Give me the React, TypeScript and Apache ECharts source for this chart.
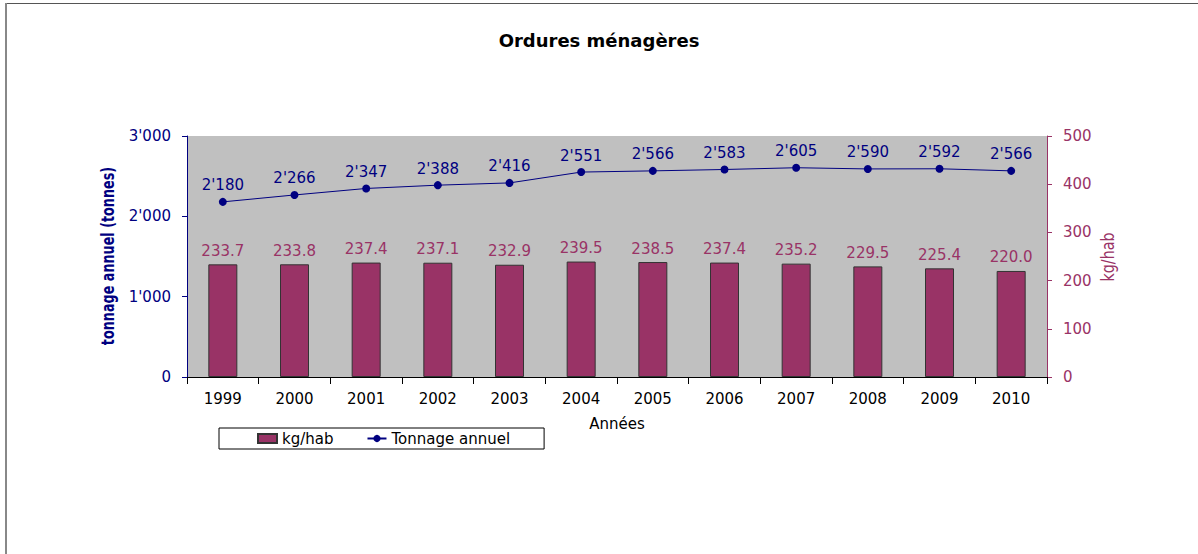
import React, { useEffect, useRef } from "react";
import * as echarts from "echarts";

const years = ["1999", "2000", "2001", "2002", "2003", "2004", "2005", "2006", "2007", "2008", "2009", "2010"];
const tonnage = [2180, 2266, 2347, 2388, 2416, 2551, 2566, 2583, 2605, 2590, 2592, 2566];
const kgHab = [233.7, 233.8, 237.4, 237.1, 232.9, 239.5, 238.5, 237.4, 235.2, 229.5, 225.4, 220.0];

const NAVY = "#000080";
const PURPLE = "#993366";
const FONT = "DejaVu Sans";

const fmtThousands = (v: number) => {
  const s = String(Math.round(v));
  return s.replace(/\B(?=(\d{3})+(?!\d))/g, "'");
};

export default function App() {
  const ref = useRef<HTMLDivElement>(null);
  useEffect(() => {
    document.body.style.margin = "0";
    const chart = echarts.init(ref.current!, null, { renderer: "svg" });
    chart.setOption({
      animation: false,
      backgroundColor: "#ffffff",
      title: {
        text: "Ordures ménagères",
        left: "center",
        top: 31,
        padding: 0,
        textStyle: { fontFamily: FONT, fontWeight: "bold", fontSize: 18, color: "#000" },
      },
      legend: {
        left: 219,
        top: 428,
        orient: "horizontal",
        padding: [3, 34, 3, 38],
        itemGap: 33,
        itemWidth: 19,
        itemHeight: 9,
        borderColor: "#000",
        borderWidth: 1,
        borderRadius: 0,
        textStyle: { fontFamily: FONT, fontSize: 15, color: "#000" },
        data: [
          { name: "kg/hab", icon: "rect" },
          { name: "Tonnage annuel" },
        ],
      },
      grid: {
        left: 187,
        right: 151,
        top: 136,
        bottom: 177,
        show: true,
        backgroundColor: "#C0C0C0",
        borderWidth: 0,
      },
      xAxis: {
        type: "category",
        data: years,
        boundaryGap: true,
        name: "Années",
        nameLocation: "middle",
        nameGap: 39,
        nameTextStyle: { fontFamily: FONT, fontSize: 15, color: "#000" },
        axisLine: { lineStyle: { color: "#000", width: 1 } },
        axisTick: { show: true, interval: 0, length: 7, lineStyle: { color: "#000" } },
        axisLabel: { fontFamily: FONT, fontSize: 15, color: "#000", margin: 14, interval: 0 },
      },
      yAxis: [
        {
          type: "value",
          min: 0,
          max: 3000,
          interval: 1000,
          position: "left",
          axisLine: { show: true, lineStyle: { color: NAVY, width: 1 } },
          axisTick: { show: true, length: 5, lineStyle: { color: NAVY } },
          splitLine: { show: false },
          axisLabel: {
            fontFamily: FONT,
            fontSize: 15,
            color: NAVY,
            margin: 16,
            formatter: (v: number) => fmtThousands(v),
          },
        },
        {
          type: "value",
          min: 0,
          max: 500,
          interval: 100,
          position: "right",
          axisLine: { show: true, lineStyle: { color: PURPLE, width: 1 } },
          axisTick: { show: true, length: 5, lineStyle: { color: PURPLE } },
          splitLine: { show: false },
          axisLabel: { fontFamily: FONT, fontSize: 15, color: PURPLE, margin: 16 },
        },
      ],
      series: [
        {
          name: "kg/hab",
          type: "bar",
          yAxisIndex: 1,
          data: kgHab,
          barWidth: 29,
          itemStyle: { color: PURPLE, borderColor: "#333333", borderWidth: 1 },
          label: {
            show: true,
            position: "top",
            distance: 6,
            fontFamily: FONT,
            fontSize: 15,
            color: PURPLE,
            formatter: (p: any) => Number(p.value).toFixed(1),
          },
        },
        {
          name: "Tonnage annuel",
          type: "line",
          yAxisIndex: 0,
          data: tonnage,
          symbol: "circle",
          symbolSize: 8,
          lineStyle: { color: NAVY, width: 1 },
          itemStyle: { color: NAVY },
          label: {
            show: true,
            position: "top",
            distance: 5,
            fontFamily: FONT,
            fontSize: 15,
            color: NAVY,
            formatter: (p: any) => fmtThousands(p.value),
          },
        },
      ],
      graphic: [
        {
          type: "line",
          shape: { x1: 5, y1: 3.5, x2: 1198, y2: 3.5 },
          style: { stroke: "#555555", lineWidth: 1 },
          silent: true,
        },
        {
          type: "line",
          shape: { x1: 6, y1: 3, x2: 6, y2: 554 },
          style: { stroke: "#888888", lineWidth: 2 },
          silent: true,
        },
        {
          type: "text",
          x: 108,
          y: 256,
          rotation: Math.PI / 2,
          scaleX: 0.71,
          style: {
            text: "tonnage annuel (tonnes)",
            fontFamily: FONT,
            fontWeight: "bold",
            fontSize: 18,
            fill: NAVY,
            align: "center",
            verticalAlign: "middle",
          },
        },
        {
          type: "text",
          x: 1108,
          y: 257,
          rotation: Math.PI / 2,
          scaleX: 0.79,
          style: {
            text: "kg/hab",
            fontFamily: FONT,
            fontSize: 18,
            fill: PURPLE,
            align: "center",
            verticalAlign: "middle",
          },
        },
      ],
    });
    return () => chart.dispose();
  }, []);
  return <div ref={ref} style={{ width: 1198, height: 554 }} />;
}
